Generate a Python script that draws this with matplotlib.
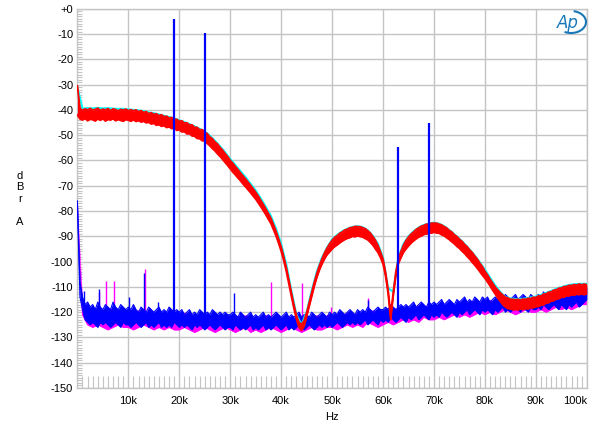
import numpy as np
import matplotlib
matplotlib.use('Agg')
import matplotlib.pyplot as plt
from matplotlib.patches import Arc

plt.rcParams['font.family'] = ['Liberation Sans', 'DejaVu Sans']

# frequency grids in kHz
f_half = np.arange(0, 100.5, 0.5)
f_one = np.arange(0, 101, 1.0)

# red trace, upper / lower edge of the noisy band (0.5 kHz steps), dBrA
red_hi = [-30.5, -39.3, -40.2, -39.6, -40.0, -39.4, -40.1, -39.8, -39.3, -40.2, -39.7, -40.0, -39.5, -40.3, -39.6, -39.9, -40.4, -39.8, -40.1, -39.7,
          -40.3, -39.9, -40.4, -40.0, -40.7, -40.3, -41.0, -40.7, -41.5, -41.1, -41.8, -41.5, -42.3, -41.9, -42.7, -42.5, -43.2, -43.0, -43.8, -43.7,
          -44.5, -44.3, -45.2, -45.1, -46.0, -45.9, -46.9, -46.9, -47.9, -47.8, -48.8, -49.4, -50.7, -51.4, -52.7, -53.5, -54.9, -55.9, -57.3, -58.5,
          -60.0, -61.1, -62.4, -63.6, -64.9, -66.1, -67.3, -68.6, -69.9, -71.2, -72.6, -74.1, -75.8, -77.4, -79.2, -81.0, -82.9, -85.4, -88.0, -91.0,
          -94.1, -98.0, -102.2, -107.2, -112.3, -117.1, -121.2, -124.0, -124.8, -123.4, -120.2, -116.2, -112.2, -108.2, -104.7, -101.6, -99.0, -96.6, -94.7, -93.0,
          -91.6, -90.4, -89.8, -88.8, -88.3, -87.5, -87.2, -86.6, -86.5, -86.1, -86.2, -86.2, -86.6, -87.0, -87.8, -88.7, -90.1, -91.6, -93.6, -96.2,
          -99.0, -104.2, -111.3, -121.0, -112.3, -104.2, -99.1, -96.1, -93.6, -91.7, -90.3, -89.1, -88.3, -87.3, -86.7, -86.0, -85.7, -85.2, -85.2, -84.8,
          -84.8, -84.8, -85.2, -85.5, -86.2, -86.7, -87.7, -88.3, -89.4, -90.1, -91.2, -92.0, -93.2, -94.1, -95.4, -96.4, -97.8, -99.0, -100.6, -102.0,
          -103.8, -105.3, -107.0, -108.5, -110.0, -111.2, -112.3, -113.2, -114.1, -114.4, -114.9, -114.9, -115.1, -114.9, -115.2, -114.8, -115.0, -114.5, -114.6, -114.1,
          -114.2, -113.6, -113.6, -112.9, -112.8, -112.1, -112.0, -111.3, -111.2, -110.5, -110.5, -109.9, -109.9, -109.4, -109.5, -109.1, -109.3, -108.9, -109.2, -108.9,
          -109.2]
red_lo = [-42.0, -43.6, -44.0, -43.4, -44.3, -43.7, -43.9, -44.4, -43.6, -44.1, -43.5, -44.4, -43.8, -44.0, -43.5, -44.3, -43.8, -44.2, -44.5, -43.8,
          -44.1, -44.5, -43.9, -44.6, -44.2, -44.8, -44.5, -45.1, -44.9, -45.6, -45.3, -46.1, -45.8, -46.5, -46.2, -47.0, -46.7, -47.4, -47.2, -48.1,
          -47.9, -48.7, -48.6, -49.5, -49.4, -50.3, -50.4, -51.3, -51.4, -52.2, -52.3, -53.3, -54.2, -55.3, -56.2, -57.4, -58.4, -59.6, -60.8, -62.0,
          -63.3, -64.6, -65.7, -66.9, -68.0, -69.3, -70.4, -71.6, -72.8, -74.1, -75.3, -76.8, -78.3, -79.9, -81.5, -83.3, -85.0, -87.4, -89.9, -92.8,
          -95.9, -99.6, -103.8, -108.8, -113.7, -118.5, -122.8, -126.0, -127.2, -125.6, -121.8, -117.8, -113.8, -109.8, -106.3, -103.4, -101.0, -99.0, -97.3, -96.2,
          -95.0, -94.1, -93.4, -92.6, -91.9, -91.3, -90.8, -90.5, -90.0, -90.2, -89.8, -90.1, -90.3, -90.9, -91.4, -92.4, -93.5, -95.0, -96.4, -98.4,
          -101.0, -105.8, -112.7, -123.0, -113.7, -105.8, -100.9, -98.5, -96.4, -95.0, -93.8, -92.7, -91.8, -91.0, -90.3, -89.9, -89.3, -89.1, -88.8, -88.7,
          -88.4, -88.7, -88.8, -89.4, -89.8, -90.6, -91.3, -92.2, -93.0, -94.0, -94.8, -95.9, -96.8, -98.0, -99.0, -100.3, -101.4, -102.7, -104.0, -105.4,
          -106.6, -108.1, -109.6, -111.3, -112.8, -114.4, -115.7, -117.0, -117.9, -118.6, -118.7, -119.1, -118.9, -119.1, -118.8, -119.0, -118.6, -118.7, -118.2, -118.3,
          -117.8, -117.8, -117.2, -117.1, -116.4, -116.3, -115.6, -115.5, -114.8, -114.7, -114.1, -114.1, -113.5, -113.6, -113.1, -113.3, -112.9, -113.1, -112.8, -113.1,
          -112.8]

# cyan trace (1 kHz steps), sits just above the red one
cyan = [-31, -39.5, -39.3, -39.4, -39.2, -39.4, -39.3, -39.5, -39.6, -39.6,
        -39.8, -40, -40.2, -40.5, -41, -41.3, -41.8, -42.3, -42.8, -43.4,
        -44.1, -44.8, -45.6, -46.5, -47.5, -48.5, -50.2, -52.2, -54.4, -56.8,
        -59.4, -61.8, -64.2, -66.6, -69.2, -71.9, -75, -78.4, -82, -87,
        -93, -101, -111.5, -121, -125, -120, -111.5, -104, -98.5, -94.5,
        -91.2, -89.4, -88, -87, -86.3, -86, -86.4, -87.6, -89.8, -93,
        -98.5, -110.5, -112, -98.5, -93, -90, -88, -86.5, -85.5, -85,
        -84.6, -85, -86, -87.5, -89.2, -91, -93, -95.2, -97.6, -100.3,
        -103.2, -106.3, -109.4, -112, -114, -114.6, -114.8, -114.8, -114.6, -114.2,
        -113.8, -113.2, -112.4, -111.6, -110.8, -110.1, -109.5, -109.1, -108.9, -108.8,
        -108.8]

# blue noise floor, upper / lower edge (0.5 kHz steps)
blue_hi = [-76, -108, -114, -117, -116, -118, -117, -119, -116, -118, -119, -117, -118, -119, -116, -118, -119, -117, -118, -119,
           -118, -119, -117, -119, -120, -118, -119, -120, -118, -119, -120, -119, -118, -120, -119, -120, -118, -119, -120, -119,
           -120, -119, -121, -120, -119, -121, -120, -121, -119, -120, -121, -120, -121, -119, -120, -121, -120, -121, -120, -121,
           -121, -120, -121, -122, -120, -121, -122, -121, -120, -122, -121, -122, -121, -120, -122, -121, -122, -121, -120, -121,
           -122, -121, -120, -122, -121, -122, -121, -120, -122, -121, -121, -122, -120, -121, -122, -121, -120, -121, -122, -120,
           -121, -120, -121, -119, -120, -121, -120, -119, -120, -121, -119, -120, -119, -120, -118, -119, -120, -119, -118, -119,
           -119, -118, -119, -117, -118, -119, -118, -117, -118, -117, -118, -117, -116, -118, -117, -116, -117, -118, -116, -117,
           -116, -117, -116, -115, -117, -116, -115, -116, -117, -115, -116, -115, -114, -116, -115, -116, -114, -115, -116, -114,
           -115, -114, -116, -115, -114, -115, -114, -115, -113, -114, -115, -114, -113, -115, -114, -113, -114, -115, -113, -114,
           -114, -113, -114, -112, -113, -114, -113, -112, -113, -114, -112, -113, -112, -113, -111, -112, -113, -112, -111, -112,
           -110]
blue_lo = [-78, -114, -119, -123, -124, -125, -124, -125, -126, -124, -125, -124, -125, -126, -125, -124, -125, -126, -124, -125,
           -125, -126, -125, -124, -125, -126, -125, -124, -126, -125, -126, -125, -124, -126, -125, -126, -125, -126, -124, -125,
           -126, -125, -126, -125, -126, -127, -125, -126, -125, -126, -127, -126, -125, -126, -127, -126, -125, -126, -127, -126,
           -126, -127, -125, -126, -127, -126, -127, -126, -125, -127, -126, -127, -126, -125, -127, -126, -127, -126, -125, -126,
           -127, -126, -125, -127, -126, -127, -126, -125, -126, -127, -126, -125, -126, -127, -126, -125, -126, -125, -126, -125,
           -126, -125, -124, -125, -126, -125, -124, -125, -124, -125, -124, -125, -124, -123, -125, -124, -123, -124, -125, -123,
           -124, -123, -124, -122, -123, -124, -123, -122, -123, -124, -122, -123, -122, -121, -123, -122, -121, -122, -123, -121,
           -122, -121, -122, -120, -121, -122, -121, -120, -121, -122, -120, -121, -120, -119, -121, -120, -119, -120, -121, -119,
           -120, -119, -120, -121, -119, -120, -119, -118, -120, -119, -120, -119, -118, -119, -120, -118, -119, -120, -118, -119,
           -119, -118, -119, -117, -118, -119, -118, -117, -118, -119, -117, -118, -119, -117, -118, -117, -116, -118, -117, -116,
           -115]

# magenta noise floor, upper / lower edge (1 kHz steps)
mag_hi = [-78, -116, -118, -119, -118, -119, -118, -119, -120, -119,
          -119, -120, -119, -120, -121, -120, -119, -121, -120, -121,
          -121, -120, -121, -122, -121, -120, -122, -121, -122, -121,
          -122, -121, -122, -121, -122, -123, -122, -121, -122, -122,
          -122, -121, -122, -123, -122, -121, -122, -121, -122, -121,
          -121, -122, -121, -120, -121, -120, -121, -120, -119, -120,
          -120, -119, -118, -119, -118, -119, -118, -117, -118, -117,
          -117, -118, -117, -116, -117, -116, -117, -116, -115, -116,
          -116, -115, -116, -115, -114, -115, -116, -115, -114, -115,
          -115, -114, -115, -114, -113, -114, -113, -114, -113, -112,
          -111]
mag_lo = [-80, -121, -125, -126, -125, -126, -127, -126, -125, -126,
          -126, -127, -126, -125, -126, -127, -126, -127, -126, -127,
          -127, -126, -127, -128, -127, -126, -127, -128, -127, -126,
          -127, -128, -127, -126, -128, -127, -128, -127, -126, -127,
          -128, -127, -126, -127, -128, -127, -126, -127, -127, -126,
          -126, -127, -126, -125, -126, -125, -126, -124, -125, -126,
          -125, -124, -125, -124, -123, -124, -123, -124, -122, -123,
          -123, -122, -123, -122, -121, -122, -121, -122, -121, -120,
          -121, -120, -121, -120, -119, -120, -121, -120, -119, -120,
          -120, -119, -120, -119, -118, -119, -118, -119, -118, -117,
          -117]

# tones / spurs (kHz, top level dB)
blue_big_f = [19, 25, 63, 69]
blue_big_top = [-4, -9.5, -54.5, -45]
blue_spur_f = [1.3, 4.3, 10.2, 13, 15.8, 30.7, 32, 51.1, 53.8, 57.1, 60.3]
blue_spur_top = [-111.5, -111, -114, -104.5, -116, -112.5, -120, -119.5, -122, -115, -120]
mag_spur_f = [4.3, 5.7, 7.2, 13.2, 38, 44, 49.8, 57.1]
mag_spur_top = [-112, -107.5, -107.5, -103, -108, -108.5, -118, -114.5]

xticks = [10, 20, 30, 40, 50, 60, 70, 80, 90, 100]
xlabels = ['10k', '20k', '30k', '40k', '50k', '60k', '70k', '80k', '90k', '100k']
yticks = list(range(0, -151, -10))
ylabels = ['+0'] + [str(v) for v in yticks[1:]]

fig = plt.figure(figsize=(6, 4.28), dpi=100)
ax = fig.add_axes([0.129, 0.0935, 0.849, 0.886])

gc = '#c4c4c4'
M, B, C, R = '#ff00ff', '#0000ff', '#00ffff', '#ff0000'

ax.vlines(mag_spur_f, -123, mag_spur_top, color=M, lw=1.0, zorder=2)
ax.fill_between(f_one, mag_lo, mag_hi, color=M, lw=0, zorder=2)
ax.plot(f_one, mag_lo, color=M, lw=0.8, zorder=2)

ax.vlines(blue_spur_f, -122, blue_spur_top, color=B, lw=1.0, zorder=3)
ax.fill_between(f_half, blue_lo, blue_hi, color=B, lw=0, zorder=3)
ax.plot(f_half, blue_hi, color=B, lw=0.8, zorder=3)
ax.plot(f_half, blue_lo, color=B, lw=0.8, zorder=3)

ax.plot(f_one, cyan, color=C, lw=1.5, zorder=4)
ax.fill_between(f_half, red_lo, red_hi, color=R, lw=0, zorder=5)
ax.plot(f_half, red_hi, color=R, lw=1.3, zorder=5)
ax.plot(f_half, red_lo, color=R, lw=1.3, zorder=5)

ax.vlines(blue_big_f, -122, blue_big_top, color=B, lw=1.6, zorder=6)

ax.set_xlim(0, 100)
ax.set_ylim(-150, 0)
ax.set_xticks(xticks)
ax.set_xticklabels(xlabels)
ax.set_yticks(yticks)
ax.set_yticklabels(ylabels)
ax.set_xticks(np.arange(1, 100, 1), minor=True)
ax.set_yticks(np.arange(-149, 0, 1), minor=True)
ax.grid(True, which='major', color=gc, lw=1.0)
ax.tick_params(which='major', length=0, labelsize=8)
ax.tick_params(axis='x', which='major', pad=6)
ax.tick_params(axis='y', which='major', pad=3)
ax.tick_params(axis='x', which='minor', direction='in', length=8.5, color=gc, width=0.8)
ax.tick_params(axis='y', which='minor', direction='in', length=3.5, color=gc, width=0.8)
ax.xaxis.get_majorticklabels()[-1].set_horizontalalignment('right')
for s in ax.spines.values():
    s.set_color(gc)
    s.set_linewidth(1.0)

ax.set_xlabel('Hz', fontsize=8, labelpad=4)
fig.text(20 / 600, 0.535, 'd\nB\nr\n\nA', fontsize=8, ha='center', va='center', linespacing=1.2)

# AP logo
fig.text(568 / 600, 1 - 23 / 428, 'Ap', fontsize=12, style='italic', color='#1a78b8',
         ha='center', va='center', family=['DejaVu Sans'])
fig.patches.append(Arc((571 / 600, 1 - 22 / 428), 30 / 600, 22 / 428, theta1=-115, theta2=80,
                       color='#1a78b8', lw=1.5, transform=fig.transFigure))

fig.savefig('out.png', dpi=100)
